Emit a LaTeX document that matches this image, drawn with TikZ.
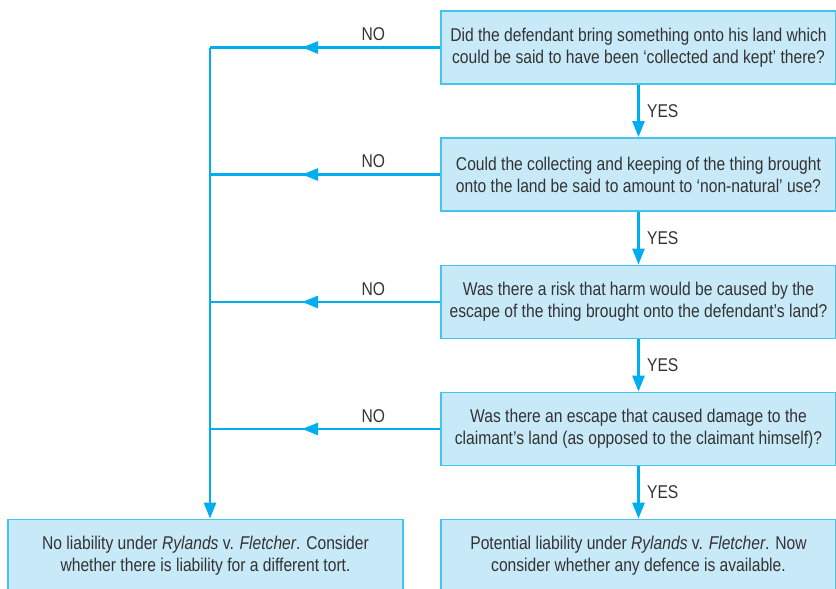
\documentclass[tikz,border=0pt]{standalone}
\usepackage{fontspec}
\setmainfont{Liberation Sans}[FakeStretch=0.845]
\usetikzlibrary{arrows.meta,decorations.markings}
\definecolor{boxfill}{HTML}{C8EAF8}
\definecolor{boxline}{HTML}{45C3EF}
\definecolor{flowline}{HTML}{00AEEF}
\definecolor{txt}{HTML}{333333}

\begin{document}
\begin{tikzpicture}[x=1pt,y=-1pt]
\tikzstyle{every node}+=[text=txt,font=\fontsize{18.5}{22}\selectfont]
\tikzstyle{qbox}=[draw=boxline,line width=1.8pt,fill=boxfill,minimum width=395pt,minimum height=73pt,align=center,inner sep=0pt]
\tikzstyle{flow}=[draw=flowline,line width=2.6pt]
\tikzstyle{tip}=[-{Triangle[length=16pt,width=12pt]}]
\tikzstyle{midtip}=[postaction={decorate},decoration={markings,mark=at position 0.6 with {\arrow[flowline]{Triangle[length=16pt,width=12pt]}}}]
\useasboundingbox (0,0) rectangle (836,589);
\node [qbox] (q1) at (638.5,47.5) {Did the defendant bring something onto his land which\\could be said to have been ‘collected and kept’ there?};
\node [qbox] (q2) at (638.5,174.5) {Could the collecting and keeping of the thing brought\\onto the land be said to amount to ‘non-natural’ use?};
\node [qbox] (q3) at (638.5,302) {Was there a risk that harm would be caused by the\\escape of the thing brought onto the defendant’s land?};
\node [qbox] (q4) at (638.5,429) {Was there an escape that caused damage to the\\claimant’s land (as opposed to the claimant himself)?};
\node [qbox] (noliab) at (205.5,556) {No liability under \textit{Rylands} v. \textit{Fletcher}. Consider\\whether there is liability for a different tort.};
\node [qbox] (liab) at (638.5,556) {Potential liability under \textit{Rylands} v. \textit{Fletcher}. Now\\consider whether any defence is available.};
\coordinate (rail) at (210,47.5);
% NO branches
\foreach \q in {q1,q2,q3,q4}
  \draw [flow,midtip] (\q.west) -- node [pos=0.29,above=2pt] {NO} (\q.west -| rail);
\draw [flow,tip] (rail) -- (noliab.north -| rail);
% YES branches
\foreach \a/\b in {q1/q2,q2/q3,q3/q4,q4/liab}
  \draw [flow,tip] (\a.south) -- node [right=4pt] {YES} (\b.north);
\end{tikzpicture}
\end{document}
